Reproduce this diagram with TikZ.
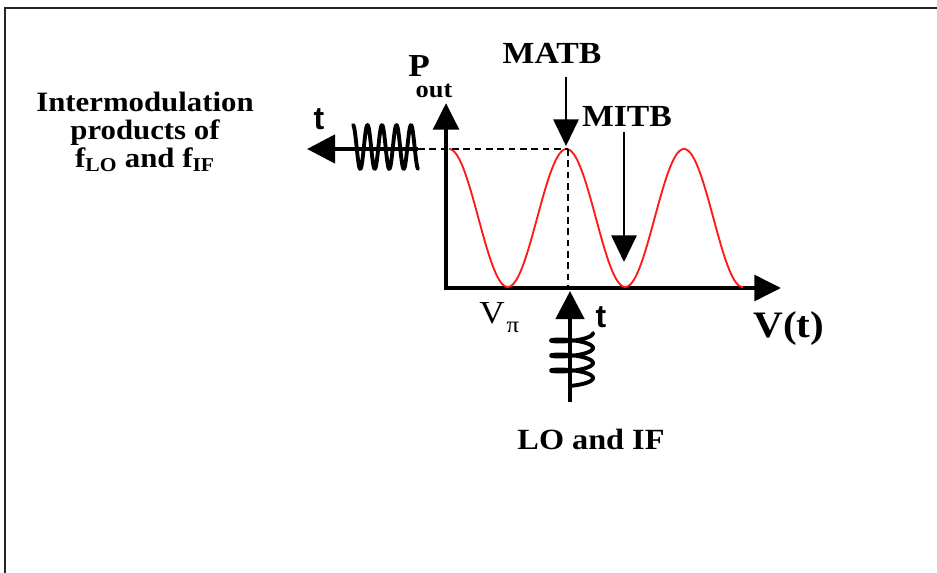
\documentclass[tikz,border=0pt]{standalone}
\usepackage{fontspec}
\setmainfont{Liberation Serif}[FakeStretch=1.1]
\newfontfamily\tfont{Liberation Sans}
\usepackage{tikz}
\usetikzlibrary{arrows.meta}
\definecolor{csine}{HTML}{FF1A1A}
\newcommand{\lblfont}{\fontsize{23pt}{25pt}\selectfont\bfseries}
\newcommand{\imfont}{\fontsize{21pt}{21pt}\selectfont\bfseries}
\tikzset{
  axis/.style={line width=3.6pt, line cap=rect, -{Triangle[length=20pt, width=19pt]}},
  feed/.style={line width=3.4pt, -{Triangle[length=21pt, width=21pt]}},
  pointer/.style={line width=1.5pt, -{Triangle[length=20pt, width=19pt]}},
  guide/.style={line width=1.3pt, dash pattern=on 5pt off 3.5pt},
  wave/.style={line width=2.9pt, line join=round, line cap=round},
  sine/.style={line width=1.4pt, draw=csine},
  frame/.style={line width=1.4pt, draw=black!85},
  lbl/.style={inner sep=0pt, font=\lblfont},
}
\begin{document}
\begin{tikzpicture}[x=0.75pt,y=-0.75pt]
\useasboundingbox (0,0) rectangle (937,573);
\draw[frame] (5,590) -- (5,8) -- (950,8);
% axes
\coordinate (O) at (446,288);
\coordinate (ytip) at (446,103);
\coordinate (xtip) at (781,288);
\draw[axis] (O) -- (ytip);
\draw[axis] (O) -- (xtip);
% transfer curve
\draw[sine] plot[domain=449:743, samples=200, smooth] (\x,{218-69*cos((\x-449)/117.5*360)});
% bias point
\coordinate (pk) at (568,149);
\coordinate (vfoot) at (568,288);
\coordinate (lstart) at (418,149);
\coordinate (ltip) at (307,149);
\draw[guide] (lstart) -- (pk);
\draw[guide] (pk) -- (vfoot);
% output signal
\draw[feed] (lstart) -- (ltip);
\draw[wave] plot[domain=353:418, samples=160, smooth] (\x,{147-22*cos((\x-353)/14.5*360)});
% input signal
\coordinate (bstart) at (570,402);
\coordinate (btip) at (570,291);
\draw[feed] (bstart) -- (btip);
\draw[wave] plot[domain=0:1170, samples=200, smooth, variable=\t] ({572+21*cos(\t)},{333+\t/360*15+4*sin(\t)});
% bias markers
\node[lbl, anchor=base] (matb) at (552,64) {MATB};
\node[lbl, anchor=base] (mitb) at (627,127) {MITB};
\coordinate (ma0) at (566,77);
\coordinate (ma1) at (566,146);
\coordinate (mi0) at (624,132);
\coordinate (mi1) at (624,262);
\draw[pointer] (ma0) -- (ma1);
\draw[pointer] (mi0) -- (mi1);
% labels
\node[lbl, anchor=base, font=\fontsize{24pt}{24pt}\selectfont\bfseries] (pP) at (419,77) {P};
\node[lbl, anchor=base, font=\fontsize{18pt}{18pt}\selectfont\bfseries] (pout) at (434,98) {out};
\node[lbl, anchor=base west, font=\fontsize{24pt}{24pt}\selectfont] (vpi) at (479,323) {V\hspace{1.5pt}\raisebox{-0.3em}{\fontsize{17pt}{17pt}\selectfont π}};
\node[lbl, anchor=base, font=\fontsize{28pt}{28pt}\selectfont\bfseries] (vt) at (789,337) {V(t)};
\node[lbl, anchor=base, font=\fontsize{24pt}{24pt}\tfont\bfseries] (tout) at (319,130) {t};
\node[lbl, anchor=base, font=\fontsize{24pt}{24pt}\tfont\bfseries] (tin) at (601,327) {t};
\node[lbl, anchor=base, font=\fontsize{22pt}{22pt}\selectfont\bfseries] (loif) at (591,449) {LO and IF};
\node[lbl, align=center, font=\imfont] (imod) at (145,132) {Intermodulation\\products of\\f\textsubscript{LO} and f\textsubscript{IF}};
\end{tikzpicture}
\end{document}
